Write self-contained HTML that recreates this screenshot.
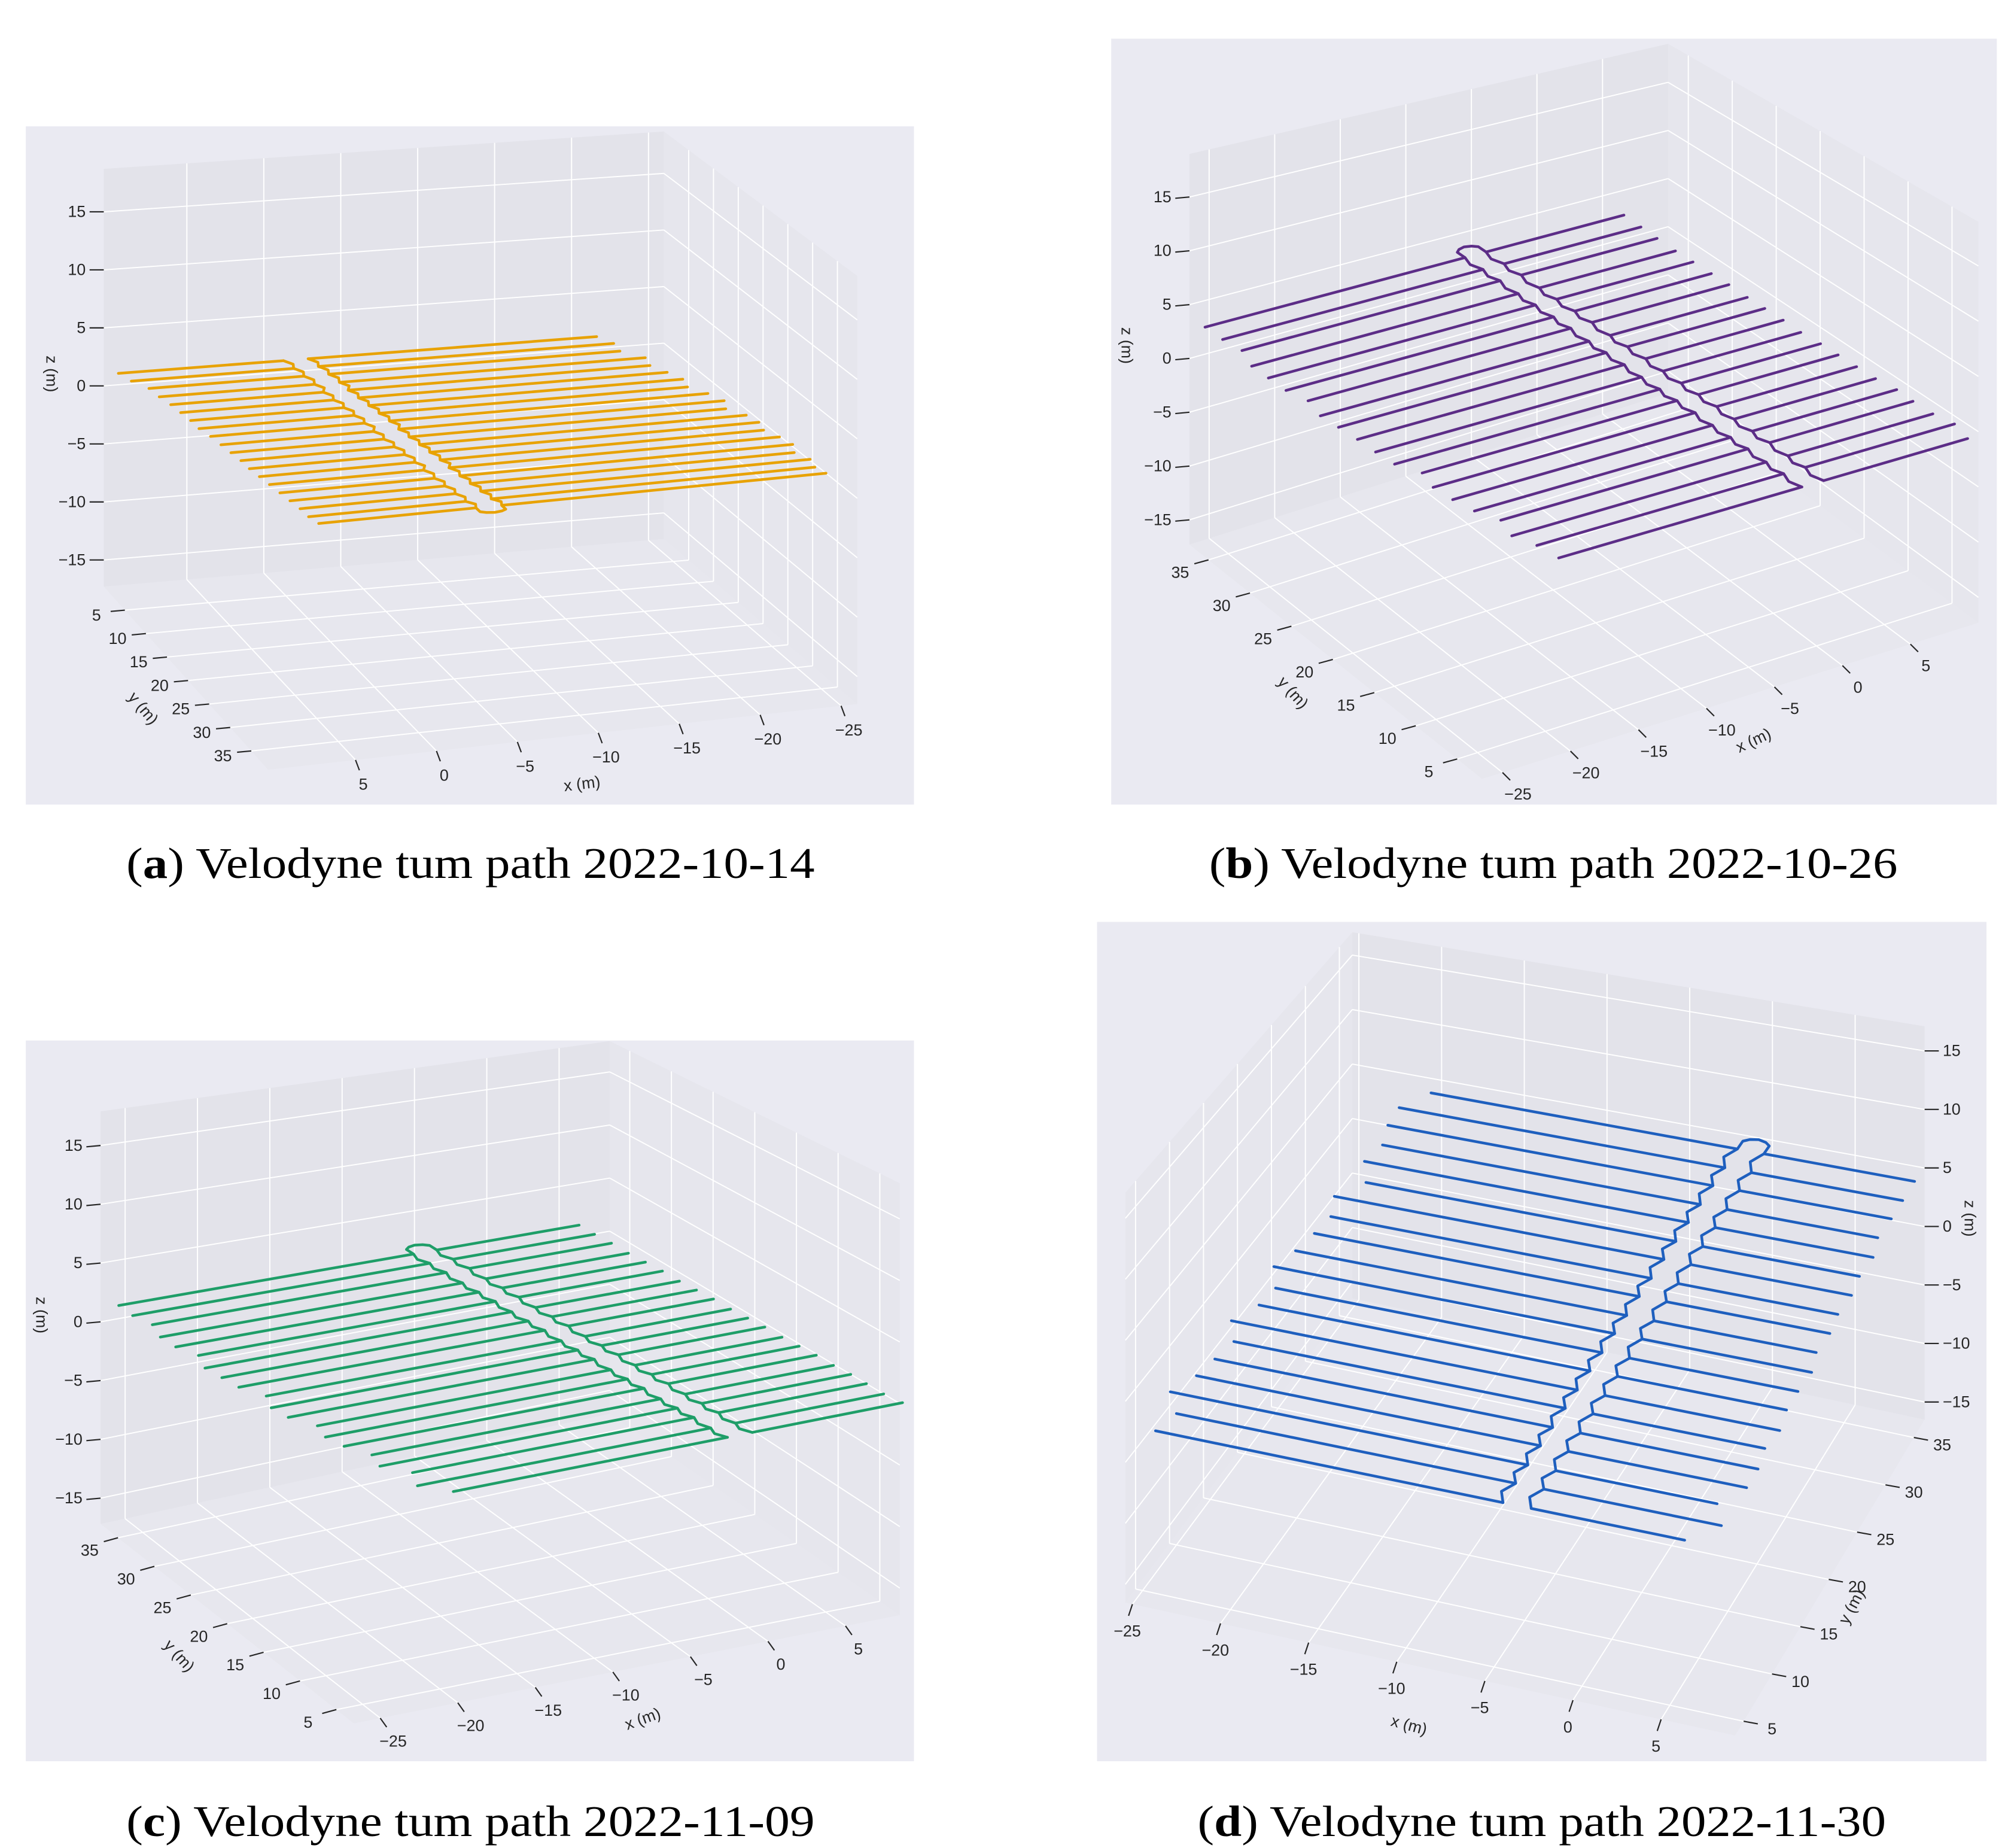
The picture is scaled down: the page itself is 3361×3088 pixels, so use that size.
<!DOCTYPE html>
<html><head><meta charset="utf-8"><style>
html,body{margin:0;padding:0;background:#fff;}
svg{display:block;}
.tk{font-family:"Liberation Sans","DejaVu Sans",sans-serif;font-size:12.5px;fill:#262626;}
.al{font-family:"Liberation Sans","DejaVu Sans",sans-serif;font-size:12.5px;fill:#262626;}
.cap{font-family:"Liberation Serif",serif;font-size:34px;fill:#000;}
</style></head><body>
<svg id="fig" width="3361" height="3088" viewBox="0 0 3361 3088" xmlns="http://www.w3.org/2000/svg">
<g id="root" transform="scale(2.15449)"></g>
</svg>
<script>
// ---------- data ----------
const aTrackY=[2.0,3.6,5.2,6.9,8.5,10.1,11.7,13.3,14.9,16.6,18.2,19.8,21.4,23.0,24.6,26.3,27.9,29.5,31.1,32.7];
const aTrackXmax=[10.0,9.6,8.9,8.7,8.4,8.2,8.0,7.9,7.6,7.4,7.2,7.0,6.9,6.7,6.5,6.3,6.1,5.9,5.8,5.6];
const aTrackXmin=[-21.0,-21.6,-21.5,-22.6,-22.4,-23.0,-23.5,-23.3,-24.1,-24.6,-24.2,-25.0,-25.3,-25.1,-25.6,-25.9,-25.5,-26.0,-25.8,-26.0];
const aConnX=[-1.5,-1.7,-1.9,-2.1,-2.2,-2.4,-2.6,-2.8,-3.0,-3.1,-3.3,-3.5,-3.7,-3.9,-4.0,-4.2,-4.4,-4.6,-4.8,-5.0];
const aTrackZ=[1.8,1.7,1.6,1.5,1.4,1.3,1.2,1.1,1.0,0.9,0.8,0.7,0.6,0.5,0.4,0.3,0.2,0.1,0.0,0.0];

const bTrackY=[2.6,4.4,6.1,7.9,9.6,11.4,13.1,14.9,16.6,18.4,20.1,21.9,23.6,25.4,27.1,28.9,30.6,32.4,34.1,35.9];
const bTrackXmax=[9.6,9.8,9.3,9.0,8.9,8.5,8.2,8.0,7.8,7.5,7.3,7.1,6.9,6.7,6.5,6.3,6.1,5.9,5.8,5.7];
const bTrackXmin=[-20.5,-21.0,-21.8,-21.5,-22.4,-22.9,-23.3,-23.0,-24.0,-24.3,-24.6,-24.9,-25.2,-25.0,-25.6,-25.8,-26.0,-25.6,-26.0,-26.2];
const bConnX=[-1.8,-2.0,-2.2,-2.4,-2.6,-2.8,-3.0,-3.2,-3.4,-3.6,-3.8,-4.0,-4.2,-4.4,-4.6,-4.8,-5.0,-5.2,-5.4,-5.6];
const bTrackZ=[-0.8,-0.5,-0.3,0.0,0.2,0.4,0.7,0.9,1.1,1.3,1.6,1.8,2.0,2.3,2.5,2.7,2.9,3.2,3.4,3.6];

const cTrackY=[3.2,4.9,6.6,8.3,10.0,11.7,13.4,15.1,16.8,18.5,20.2,21.9,23.6,25.3,27.0,28.7,30.4,32.1,33.8,35.5];
const cTrackXmax=[9.0,8.7,8.5,8.4,8.2,8.0,7.8,7.6,7.4,7.2,7.0,6.8,6.6,6.4,6.2,6.0,5.8,5.6,5.4,5.3];
const cTrackXmin=[-20.0,-21.5,-21.0,-22.3,-22.0,-23.0,-23.4,-23.1,-24.2,-24.5,-24.0,-25.0,-25.3,-25.6,-25.2,-25.9,-26.1,-25.8,-26.3,-26.4];
const cConnX=[-1.5,-1.7,-1.9,-2.1,-2.3,-2.5,-2.7,-2.9,-3.1,-3.3,-3.5,-3.7,-3.9,-4.1,-4.3,-4.5,-4.7,-4.9,-5.1,-5.3];
const cTrackZ=[-0.3,-0.2,0.0,0.1,0.2,0.4,0.5,0.6,0.8,0.9,1.0,1.2,1.3,1.4,1.6,1.7,1.8,2.0,2.1,2.2];

const dTrackY=[3.0,4.8,6.5,8.3,10.0,11.8,13.5,15.3,17.0,18.8,20.5,22.3,24.0,25.8,27.5,29.3,31.0,32.8,34.5,36.3];
const dTrackXmax=[6.5,8.0,7.2,8.3,8.4,8.2,8.5,8.3,8.4,8.6,8.3,8.5,8.4,8.6,8.5,8.7,8.4,8.6,8.7,8.8];
const dTrackXmin=[-23.5,-23.0,-24.0,-23.2,-22.8,-22.4,-23.2,-22.3,-22.0,-22.8,-22.2,-21.8,-21.5,-22.0,-20.8,-21.6,-21.2,-21.6,-21.6,-20.4];
const dConnX=[-3.0,-2.9,-2.8,-2.7,-2.6,-2.5,-2.4,-2.3,-2.2,-2.1,-2.0,-1.9,-1.8,-1.7,-1.6,-1.5,-1.4,-1.3,-1.2,-1.1];
const dTrackZ=[-1.5,-1.2,-0.9,-0.6,-0.3,0.0,0.3,0.6,0.9,1.2,1.5,1.8,2.1,2.4,2.7,3.0,3.3,3.6,3.9,4.2];

const xTicks=[-25,-20,-15,-10,-5,0,5];
const yTicks=[5,10,15,20,25,30,35];
const zTicks=[-15,-10,-5,0,5,10,15];
const xTickLabels=["\u221225","\u221220","\u221215","\u221210","\u22125","0","5"];
const yTickLabels=["5","10","15","20","25","30","35"];
const zTickLabels=["\u221215","\u221210","\u22125","0","5","10","15"];

// ---------- panel geometry (screen config) ----------
const panels=[
 {key:'a',color:'#e8a202',bg:[20,98,689,526],xlim:[-26,10.4],ylim:[0,39],zlim:[-17.3,18.7],
  c00:[515,418],c10:[80.5,455],c01:[665,546],c11:[208,597],h00:316,h10:324,h01:332,h11:340,
  walls:[['y',0],['x',0]],zCorner:[1,0],xEdgeY:1,yEdgeX:1,
  zTick:[-11,0],zLab:[-14,4,'end'],xTick:[3,8],xLab:[6,23,'middle'],yTick:[-11,1],yLab:[-22,8,'middle'],
  ty:aTrackY,txa:aTrackXmax,txi:aTrackXmin,tc:aConnX,tz:aTrackZ,
  xl:[452,612,-7],yl:[108,552,50],zl:[36,290,90],cap:[365,681,'a','2022-10-14']},
 {key:'b',color:'#5c2d87',bg:[862,30,687,594],xlim:[-26.5,10],ylim:[2,37.3],zlim:[-17.3,19],
  c00:[1149.7,604.1],c10:[1534.7,483],c01:[922.7,422.4],c11:[1294,305],h00:330,h10:311,h01:303,h11:271,
  walls:[['y',1],['x',1]],zCorner:[0,1],xEdgeY:0,yEdgeX:0,
  zTick:[-11,1],zLab:[-14,4,'end'],xTick:[6,6],xLab:[12,21,'middle'],yTick:[-11,3],yLab:[-22,14,'middle'],
  ty:bTrackY,txa:bTrackXmax,txi:bTrackXmin,tc:bConnX,tz:bTrackZ,
  xl:[1362,578,-25],yl:[1000,540,48],zl:[870,268,90],cap:[1205,681,'b','2022-10-26']},
 {key:'c',color:'#1e9e68',bg:[20,807,689,559],xlim:[-26.7,8.5],ylim:[2.6,37.4],zlim:[-17.2,17.9],
  c00:[274.5,1336.6],c10:[698,1252.7],c01:[78,1182],c11:[473,1096.5],h00:335,h10:335,h01:320,h11:289,
  walls:[['y',1],['x',1]],zCorner:[0,1],xEdgeY:0,yEdgeX:0,
  zTick:[-11,1],zLab:[-14,4,'end'],xTick:[5,7],xLab:[10,22,'middle'],yTick:[-11,3],yLab:[-22,14,'middle'],
  ty:cTrackY,txa:cTrackXmax,txi:cTrackXmin,tc:cConnX,tz:cTrackZ,
  xl:[500,1337,-20],yl:[136,1287,48],zl:[28,1020,90],cap:[365,1424,'c','2022-11-09']},
 {key:'d',color:'#1e5fbe',bg:[851,715,690,651],xlim:[-25.4,9.2],ylim:[3.5,36.9],zlim:[-16.5,17.1],
  c00:[873,1243],c10:[1346,1346],c01:[1049,1007],c11:[1493,1101],h00:318,h10:330,h01:284,h11:305,
  walls:[['x',0],['y',1]],zCorner:[1,1],xEdgeY:0,yEdgeX:1,
  zTick:[11,0],zLab:[14,4,'start'],xTick:[-3,9],xLab:[-4,25,'middle'],yTick:[11,2],yLab:[22,10,'middle'],
  ty:dTrackY,txa:dTrackXmax,txi:dTrackXmin,tc:dConnX,tz:dTrackZ,
  xl:[1092,1342,15],yl:[1440,1248,-62],zl:[1524,945,90],cap:[1196,1424,'d','2022-11-30']}
];

const NS='http://www.w3.org/2000/svg';
const root=document.getElementById('root');
function mk(tag,attrs,parent){const e=document.createElementNS(NS,tag);for(const k in attrs)e.setAttribute(k,attrs[k]);(parent||root).appendChild(e);return e;}

function proj(p,x,y,z){
  const u=(x-p.xlim[0])/(p.xlim[1]-p.xlim[0]);
  const v=(y-p.ylim[0])/(p.ylim[1]-p.ylim[0]);
  const w=(z-p.zlim[0])/(p.zlim[1]-p.zlim[0]);
  const a=(1-u)*(1-v),b=u*(1-v),c=(1-u)*v,d=u*v;
  const fx=a*p.c00[0]+b*p.c10[0]+c*p.c01[0]+d*p.c11[0];
  const fy=a*p.c00[1]+b*p.c10[1]+c*p.c01[1]+d*p.c11[1];
  const h=a*p.h00+b*p.h10+c*p.h01+d*p.h11;
  return [fx,fy-w*h];
}
function pts(arr){return arr.map(q=>q[0].toFixed(2)+','+q[1].toFixed(2)).join(' ');}

panels.forEach(p=>{
  const g=mk('g',{});
  
  
  const bg=mk('rect',{x:p.bg[0],y:p.bg[1],width:p.bg[2],height:p.bg[3],fill:'#eaeaf2'},g);
  
  
  const X=p.xlim,Y=p.ylim,Z=p.zlim;
  const floor=mk('polygon',{points:pts([proj(p,X[0],Y[0],Z[0]),proj(p,X[1],Y[0],Z[0]),proj(p,X[1],Y[1],Z[0]),proj(p,X[0],Y[1],Z[0])]),fill:'#e7e7ee'},g);
  
  
  p.walls.forEach(wl=>{
    let c;
    if(wl[0]==='y'){const yy=Y[wl[1]];c=[proj(p,X[0],yy,Z[0]),proj(p,X[1],yy,Z[0]),proj(p,X[1],yy,Z[1]),proj(p,X[0],yy,Z[1])];}
    else{const xx=X[wl[1]];c=[proj(p,xx,Y[0],Z[0]),proj(p,xx,Y[1],Z[0]),proj(p,xx,Y[1],Z[1]),proj(p,xx,Y[0],Z[1])];}
    const w=mk('polygon',{points:pts(c),fill:wl[0]==='y'?'#e3e3ea':'#e6e6ed'},g);
    
    
  });
  const gl=(a,b)=>{const l=mk('line',{x1:a[0],y1:a[1],x2:b[0],y2:b[1],stroke:'#ffffff','stroke-width':0.9},g);
    
    };
  xTicks.forEach(t=>{if(t<X[0]||t>X[1])return;gl(proj(p,t,Y[0],Z[0]),proj(p,t,Y[1],Z[0]));});
  yTicks.forEach(t=>{if(t<Y[0]||t>Y[1])return;gl(proj(p,X[0],t,Z[0]),proj(p,X[1],t,Z[0]));});
  p.walls.forEach(wl=>{
    if(wl[0]==='y'){const yy=Y[wl[1]];
      xTicks.forEach(t=>{if(t<X[0]||t>X[1])return;gl(proj(p,t,yy,Z[0]),proj(p,t,yy,Z[1]));});
      zTicks.forEach(t=>gl(proj(p,X[0],yy,t),proj(p,X[1],yy,t)));}
    else{const xx=X[wl[1]];
      yTicks.forEach(t=>{if(t<Y[0]||t>Y[1])return;gl(proj(p,xx,t,Z[0]),proj(p,xx,t,Z[1]));});
      zTicks.forEach(t=>gl(proj(p,xx,Y[0],t),proj(p,xx,Y[1],t)));}
  });
  const tick=(pt,d,lab,txt,nm)=>{
    const l=mk('line',{x1:pt[0],y1:pt[1],x2:pt[0]+d[0],y2:pt[1]+d[1],stroke:'#262626','stroke-width':1},g);
    
    
    const t=mk('text',{x:pt[0]+lab[0],y:pt[1]+lab[1],'text-anchor':lab[2],class:'tk'},g);
    t.textContent=txt;
    
    
  };
  const zx=X[p.zCorner[0]],zy=Y[p.zCorner[1]];
  zTicks.forEach((t,i)=>tick(proj(p,zx,zy,t),p.zTick,p.zLab,zTickLabels[i],'z'));
  const ey=Y[p.xEdgeY];
  xTicks.forEach((t,i)=>{if(t<X[0]||t>X[1])return;tick(proj(p,t,ey,Z[0]),p.xTick,p.xLab,xTickLabels[i],'x');});
  const ex=X[p.yEdgeX];
  yTicks.forEach((t,i)=>{if(t<Y[0]||t>Y[1])return;tick(proj(p,ex,t,Z[0]),p.yTick,p.yLab,yTickLabels[i],'y');});
  [['x (m)',p.xl,'x-axis-title'],['y (m)',p.yl,'y-axis-title'],['z (m)',p.zl,'z-axis-title']].forEach(a=>{
    const t=mk('text',{x:a[1][0],y:a[1][1],'text-anchor':'middle',class:'al',transform:'rotate('+a[1][2]+' '+a[1][0]+' '+a[1][1]+')'},g);
    t.textContent=a[0];
    
    
  });
  const gap=0.8;
  const st={fill:'none',stroke:p.color,'stroke-width':2.1,'stroke-linejoin':'round','stroke-linecap':'round'};
  const n=p.ty.length;
  for(let i=0;i<n;i++){
    const z=p.tz[i];
    const r=mk('polyline',Object.assign({points:pts([proj(p,p.txa[i],p.ty[i],z),proj(p,p.tc[i]+gap,p.ty[i],z)])},st),g);
    
    
    const l=mk('polyline',Object.assign({points:pts([proj(p,p.tc[i]-gap,p.ty[i],z),proj(p,p.txi[i],p.ty[i],z)])},st),g);
    
    
  }
  const L=[],R=[];
  for(let i=0;i<n;i++){
    const z=p.tz[i];
    L.push(proj(p,p.tc[i]-gap,p.ty[i],z));R.push(proj(p,p.tc[i]+gap,p.ty[i],z));
    if(i<n-1){const ym=(p.ty[i]+p.ty[i+1])/2,zm=(p.tz[i]+p.tz[i+1])/2;
      L.push(proj(p,p.tc[i]-gap-0.4,ym,zm));R.push(proj(p,p.tc[i]+gap-0.4,ym,zm));}
  }
  const last=n-1,zl=p.tz[last],yu=p.ty[last]+0.9;
  L.push(proj(p,p.tc[last]-gap,yu,zl));
  const uturn=[proj(p,p.tc[last]-gap*0.6,yu+0.3,zl),proj(p,p.tc[last],yu+0.45,zl),proj(p,p.tc[last]+gap*0.6,yu+0.3,zl),proj(p,p.tc[last]+gap,yu,zl)];
  const conn=L.concat(uturn).concat(R.slice().reverse());
  const c=mk('polyline',Object.assign({points:pts(conn)},st),g);
  
  
  const cap=mk('text',{x:p.cap[0],y:p.cap[1],'text-anchor':'middle',class:'cap',textLength:534,lengthAdjust:'spacingAndGlyphs'},root);
  
  
  const t1=mk('tspan',{},cap);t1.textContent='(';
  const t2=mk('tspan',{'font-weight':'bold'},cap);t2.textContent=p.cap[2];
  const t3=mk('tspan',{},cap);t3.textContent=') Velodyne tum path '+p.cap[3];
});
</script>
</body></html>
